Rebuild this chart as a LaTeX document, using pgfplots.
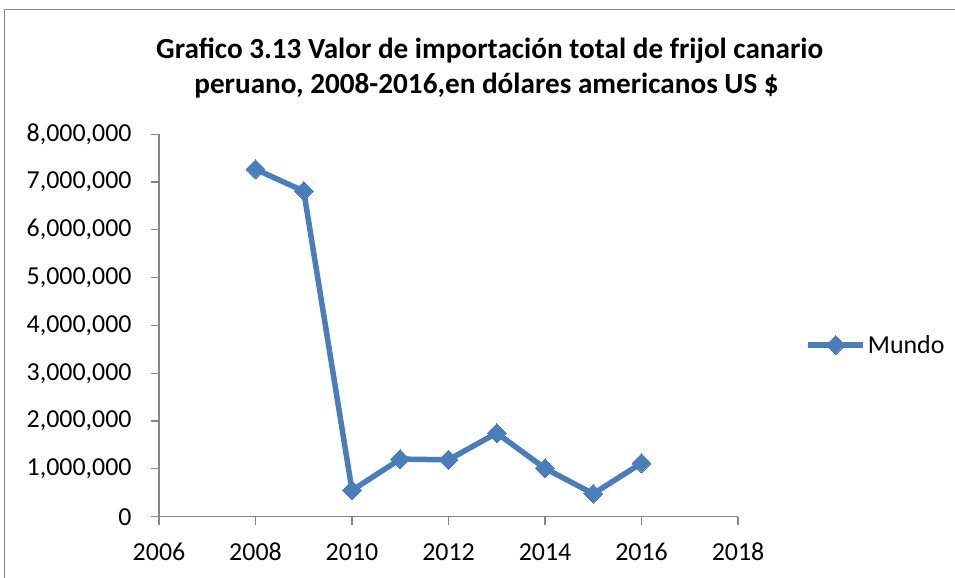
\documentclass[border=0pt]{standalone}
\usepackage{fontspec}
\setmainfont{Carlito}
\usepackage{pgfplots}
\pgfplotsset{compat=1.18}
\definecolor{lineblue}{HTML}{4A7EBB}
\definecolor{axgray}{HTML}{868686}
\begin{document}
\begin{tikzpicture}[x=1bp,y=1bp]
\useasboundingbox (0,0) rectangle (955,578);
\draw[axgray,line width=1.2bp] (4.5,-5) -- (4.5,568.5) -- (960,568.5);
\node[anchor=base,font=\bfseries\fontsize{29.3}{34}\selectfont] at (489.7,519.7) {Grafico 3.13 Valor de importación total de frijol canario};
\node[anchor=base,font=\bfseries\fontsize{29.3}{34}\selectfont] at (486.5,484.7) {peruano, 2008-2016,en dólares americanos US \$};
\begin{axis}[
  at={(159bp,61.3bp)}, anchor=south west,
  scale only axis, width=579bp, height=382.4bp,
  xmin=2006, xmax=2018, ymin=0, ymax=8000000,
  axis x line=bottom, axis y line=left,
  axis line style={axgray,line width=1.2bp,-},
  xtick={2006,2008,...,2018},
  ytick={0,1000000,...,8000000},
  tick style={axgray,line width=1.2bp},
  tick align=outside, major tick length=8bp,
  scaled y ticks=false,
  /pgf/number format/assume math mode=true,
  xticklabel style={/pgf/number format/set thousands separator={},font=\fontsize{26}{31}\selectfont,yshift=-15bp},
  yticklabel style={/pgf/number format/.cd,fixed,1000 sep={,},/tikz/.cd,font=\fontsize{26}{31}\selectfont,xshift=-16bp},
  legend style={at={(1.116,0.449)},anchor=west,draw=none,fill=none,font=\fontsize{26}{31}\selectfont,inner sep=0pt},
  legend image code/.code={\draw[mark repeat=2,mark phase=2] plot coordinates {(0bp,0bp)(27.5bp,0bp)(55bp,0bp)};},
  clip=false,
]
\addplot[lineblue,line width=5.5bp,mark=square*,mark size=6.7bp,mark options={solid,fill=lineblue,line width=0bp,rotate=45}] coordinates {
(2008,7270000)(2009,6810000)(2010,550000)(2011,1205000)(2012,1190000)(2013,1750000)(2014,1010000)(2015,480000)(2016,1120000)};
\addlegendentry{Mundo}
\end{axis}
\end{tikzpicture}
\end{document}
